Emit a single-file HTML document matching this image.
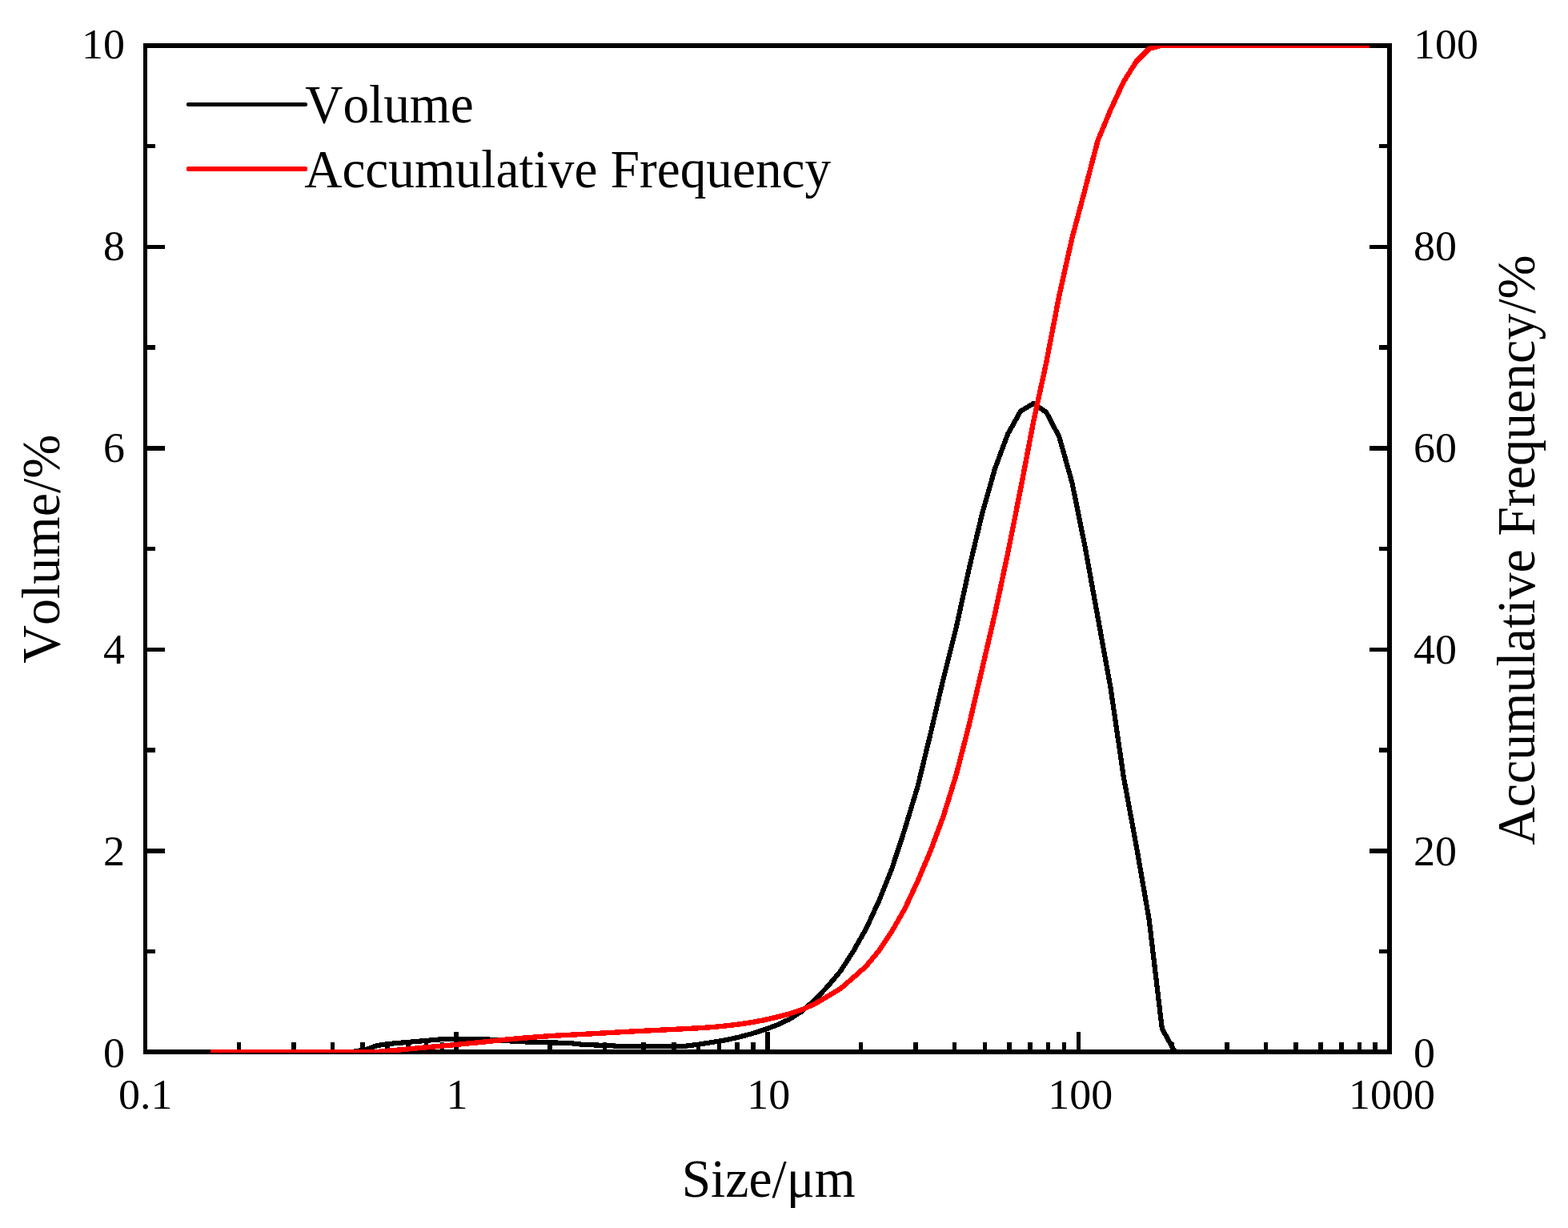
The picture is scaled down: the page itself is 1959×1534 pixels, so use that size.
<!DOCTYPE html>
<html lang="en">
<head>
<meta charset="utf-8">
<title>Particle size distribution</title>
<style>
html,body{margin:0;padding:0;background:#fff;}
body{width:1959px;height:1534px;overflow:hidden;}
svg{display:block;}
text{font-family:"Liberation Serif",serif;}
</style>
</head>
<body>
<svg width="1959" height="1534" viewBox="0 0 1959 1534">
<defs><clipPath id="plot"><rect x="179" y="57" width="1560" height="1258"/></clipPath></defs>
<rect width="1959" height="1534" fill="#fff"/>
<g shape-rendering="crispEdges">
<rect x="179" y="54" width="5" height="1263" fill="#000"/>
<rect x="1733" y="54" width="6" height="1263" fill="#000"/>
<rect x="179" y="54" width="1560" height="6" fill="#000"/>
<rect x="179" y="1311" width="1560" height="6" fill="#000"/>
<rect x="184" y="1186" width="10" height="5" fill="#000"/>
<rect x="1723" y="1186" width="10" height="5" fill="#000"/>
<rect x="184" y="1060" width="22" height="6" fill="#000"/>
<rect x="1711" y="1060" width="22" height="6" fill="#000"/>
<rect x="184" y="934" width="10" height="6" fill="#000"/>
<rect x="1723" y="934" width="10" height="6" fill="#000"/>
<rect x="184" y="809" width="22" height="5" fill="#000"/>
<rect x="1711" y="809" width="22" height="5" fill="#000"/>
<rect x="184" y="683" width="10" height="5" fill="#000"/>
<rect x="1723" y="683" width="10" height="5" fill="#000"/>
<rect x="184" y="557" width="22" height="6" fill="#000"/>
<rect x="1711" y="557" width="22" height="6" fill="#000"/>
<rect x="184" y="431" width="10" height="6" fill="#000"/>
<rect x="1723" y="431" width="10" height="6" fill="#000"/>
<rect x="184" y="306" width="22" height="5" fill="#000"/>
<rect x="1711" y="306" width="22" height="5" fill="#000"/>
<rect x="184" y="180" width="10" height="5" fill="#000"/>
<rect x="1723" y="180" width="10" height="5" fill="#000"/>
<rect x="296" y="1302" width="5" height="9" fill="#000"/>
<rect x="364" y="1302" width="6" height="9" fill="#000"/>
<rect x="413" y="1302" width="5" height="9" fill="#000"/>
<rect x="450" y="1302" width="6" height="9" fill="#000"/>
<rect x="481" y="1302" width="6" height="9" fill="#000"/>
<rect x="507" y="1302" width="6" height="9" fill="#000"/>
<rect x="530" y="1302" width="5" height="9" fill="#000"/>
<rect x="550" y="1302" width="5" height="9" fill="#000"/>
<rect x="567" y="1289" width="6" height="22" fill="#000"/>
<rect x="684" y="1302" width="6" height="9" fill="#000"/>
<rect x="753" y="1302" width="5" height="9" fill="#000"/>
<rect x="801" y="1302" width="6" height="9" fill="#000"/>
<rect x="839" y="1302" width="6" height="9" fill="#000"/>
<rect x="870" y="1302" width="5" height="9" fill="#000"/>
<rect x="896" y="1302" width="5" height="9" fill="#000"/>
<rect x="918" y="1302" width="6" height="9" fill="#000"/>
<rect x="938" y="1302" width="6" height="9" fill="#000"/>
<rect x="956" y="1289" width="6" height="22" fill="#000"/>
<rect x="1073" y="1302" width="5" height="9" fill="#000"/>
<rect x="1141" y="1302" width="6" height="9" fill="#000"/>
<rect x="1190" y="1302" width="5" height="9" fill="#000"/>
<rect x="1228" y="1302" width="5" height="9" fill="#000"/>
<rect x="1258" y="1302" width="6" height="9" fill="#000"/>
<rect x="1284" y="1302" width="6" height="9" fill="#000"/>
<rect x="1307" y="1302" width="5" height="9" fill="#000"/>
<rect x="1327" y="1302" width="5" height="9" fill="#000"/>
<rect x="1345" y="1289" width="5" height="22" fill="#000"/>
<rect x="1462" y="1302" width="5" height="9" fill="#000"/>
<rect x="1530" y="1302" width="6" height="9" fill="#000"/>
<rect x="1579" y="1302" width="5" height="9" fill="#000"/>
<rect x="1616" y="1302" width="6" height="9" fill="#000"/>
<rect x="1647" y="1302" width="6" height="9" fill="#000"/>
<rect x="1673" y="1302" width="6" height="9" fill="#000"/>
<rect x="1696" y="1302" width="5" height="9" fill="#000"/>
<rect x="1715" y="1302" width="6" height="9" fill="#000"/>
</g>
<g clip-path="url(#plot)" shape-rendering="crispEdges">
<polyline points="263.0,1314.0 279.1,1314.0 295.1,1314.0 311.2,1314.0 327.3,1314.0 343.3,1314.0 359.4,1314.0 375.5,1314.0 391.5,1314.0 407.6,1314.0 423.6,1314.0 439.7,1314.0 455.8,1311.5 471.8,1305.9 487.9,1303.8 504.0,1302.4 520.0,1301.0 536.1,1299.6 552.2,1298.2 568.2,1297.7 584.3,1297.7 600.4,1297.7 616.4,1299.0 632.5,1300.1 648.6,1301.1 664.6,1301.8 680.7,1302.3 696.8,1302.6 712.8,1303.1 728.9,1304.9 745.0,1305.5 761.0,1306.1 777.1,1307.1 793.1,1307.1 809.2,1307.1 825.3,1307.1 841.3,1307.1 857.4,1306.6 873.5,1304.6 889.5,1302.0 905.6,1299.4 921.7,1296.0 937.7,1291.7 953.8,1286.7 969.9,1280.8 985.9,1273.4 1002.0,1263.2 1018.1,1249.1 1034.1,1232.2 1050.2,1213.0 1066.2,1188.1 1082.3,1159.7 1098.4,1124.8 1114.4,1084.8 1130.5,1035.6 1146.6,982.2 1162.6,916.3 1178.7,847.6 1194.8,783.4 1210.8,710.1 1226.9,642.3 1243.0,585.5 1259.0,542.4 1275.1,513.6 1291.2,504.0 1307.2,515.0 1323.3,545.6 1339.4,602.9 1355.4,682.0 1371.5,770.7 1387.6,859.6 1403.6,969.4 1419.7,1056.8 1435.7,1148.9 1451.8,1284.8 1467.9,1314.0 1483.9,1314.0 1500.0,1314.0 1516.1,1314.0 1532.1,1314.0 1548.2,1314.0 1564.3,1314.0 1580.3,1314.0 1596.4,1314.0 1612.5,1314.0 1628.5,1314.0 1644.6,1314.0 1660.7,1314.0 1676.7,1314.0 1692.8,1314.0 1711.0,1314.0" fill="none" stroke="#000" stroke-width="6.2" stroke-linejoin="round" stroke-linecap="butt"/>
<polyline points="263.0,1314.0 279.1,1314.0 295.1,1314.0 311.2,1314.0 327.3,1314.0 343.3,1314.0 359.4,1314.0 375.5,1314.0 391.5,1314.0 407.6,1314.0 423.6,1314.0 439.7,1314.0 455.8,1314.0 471.8,1313.9 487.9,1312.4 504.0,1311.0 520.0,1309.5 536.1,1308.0 552.2,1306.6 568.2,1305.1 584.3,1303.5 600.4,1302.0 616.4,1300.3 632.5,1298.6 648.6,1297.1 664.6,1295.8 680.7,1294.6 696.8,1293.5 712.8,1292.7 728.9,1291.9 745.0,1291.0 761.0,1290.1 777.1,1289.2 793.1,1288.3 809.2,1287.5 825.3,1286.7 841.3,1285.9 857.4,1285.1 873.5,1284.2 889.5,1283.1 905.6,1281.6 921.7,1279.7 937.7,1277.4 953.8,1274.4 969.9,1270.7 985.9,1266.6 1002.0,1261.3 1018.1,1254.0 1034.1,1244.6 1050.2,1234.9 1066.2,1221.1 1082.3,1206.8 1098.4,1187.3 1114.4,1163.2 1130.5,1135.0 1146.6,1100.6 1162.6,1062.8 1178.7,1019.5 1194.8,967.3 1210.8,905.3 1226.9,836.1 1243.0,766.8 1259.0,691.7 1275.1,610.8 1291.2,526.5 1307.2,453.0 1323.3,369.3 1339.4,297.4 1355.4,237.4 1371.5,175.7 1387.6,137.0 1403.6,102.5 1419.7,76.8 1435.7,60.8 1451.8,56.6 1467.9,57.0 1483.9,57.0 1500.0,57.0 1516.1,57.0 1532.1,57.0 1548.2,57.0 1564.3,57.0 1580.3,57.0 1596.4,57.0 1612.5,57.0 1628.5,57.0 1644.6,57.0 1660.7,57.0 1676.7,57.0 1692.8,57.0 1711.0,57.0" fill="none" stroke="#f00" stroke-width="6.4" stroke-linejoin="round" stroke-linecap="butt"/>
</g>
<g shape-rendering="crispEdges">
<rect x="234" y="128" width="149" height="5" fill="#000"/><rect x="233" y="129" width="151" height="3" fill="#000"/>
<rect x="234" y="208" width="149" height="6" fill="#f00"/><rect x="233" y="209" width="151" height="4" fill="#f00"/>
</g>
<g font-family="Liberation Serif, serif" fill="#000" style="font-kerning:none">
<text transform="translate(381.25 153.00) scale(0.9606 1)" font-size="68">Volume</text>
<text transform="translate(380.25 234.00) scale(0.9601 1)" font-size="68">Accumulative Frequency</text>
<text transform="translate(851.64 1495.00) scale(0.9642 1)" font-size="68">Size/μm</text>
<text transform="translate(74.00 828.66) rotate(-90) scale(0.9705 1)" font-size="68">Volume/%</text>
<text transform="translate(1917.20 1055.76) rotate(-90) scale(0.9688 1)" font-size="68">Accumulative Frequency/%</text>
<text transform="translate(156.00 1332.60) scale(1.0286 1)" font-size="52.5" text-anchor="end">0</text>
<text transform="translate(1766.00 1332.60) scale(1.0286 1)" font-size="52.5" text-anchor="start">0</text>
<text transform="translate(156.00 1080.60) scale(1.0286 1)" font-size="52.5" text-anchor="end">2</text>
<text transform="translate(1766.00 1080.60) scale(1.0286 1)" font-size="52.5" text-anchor="start">20</text>
<text transform="translate(156.00 828.60) scale(1.0286 1)" font-size="52.5" text-anchor="end">4</text>
<text transform="translate(1766.00 828.60) scale(1.0286 1)" font-size="52.5" text-anchor="start">40</text>
<text transform="translate(156.00 576.60) scale(1.0286 1)" font-size="52.5" text-anchor="end">6</text>
<text transform="translate(1766.00 576.60) scale(1.0286 1)" font-size="52.5" text-anchor="start">60</text>
<text transform="translate(156.00 324.60) scale(1.0286 1)" font-size="52.5" text-anchor="end">8</text>
<text transform="translate(1766.00 324.60) scale(1.0286 1)" font-size="52.5" text-anchor="start">80</text>
<text transform="translate(156.00 72.60) scale(1.0286 1)" font-size="52.5" text-anchor="end">10</text>
<text transform="translate(1766.00 72.60) scale(1.0286 1)" font-size="52.5" text-anchor="start">100</text>
<text transform="translate(181.75 1384.80) scale(1.0286 1)" font-size="52.5" text-anchor="middle">0.1</text>
<text transform="translate(571.05 1384.80) scale(1.0286 1)" font-size="52.5" text-anchor="middle">1</text>
<text transform="translate(960.35 1384.80) scale(1.0286 1)" font-size="52.5" text-anchor="middle">10</text>
<text transform="translate(1349.65 1384.80) scale(1.0286 1)" font-size="52.5" text-anchor="middle">100</text>
<text transform="translate(1738.95 1384.80) scale(1.0286 1)" font-size="52.5" text-anchor="middle">1000</text>
</g>
</svg>
</body>
</html>
